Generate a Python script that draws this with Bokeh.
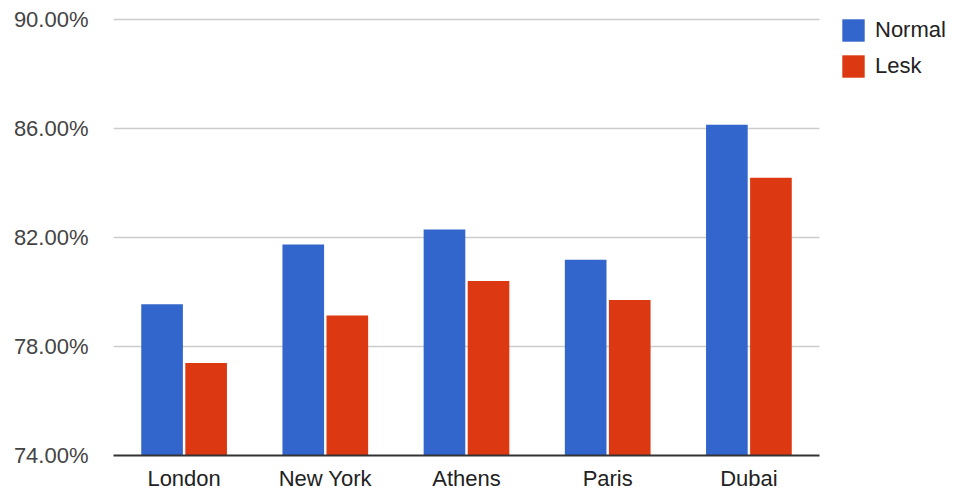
from bokeh.plotting import figure
from bokeh.models import (ColumnDataSource, Legend, LegendItem, Range1d,
                          FixedTicker, PrintfTickFormatter)
from bokeh.transform import dodge
from bokeh.embed import file_html
from bokeh.resources import INLINE

# Accuracy per city for the two methods (percent)
cities = ["London", "New York", "Athens", "Paris", "Dubai"]
normal = [79.55, 81.74, 82.29, 81.18, 86.14]
lesk = [77.39, 79.14, 80.40, 79.71, 84.19]
y_ticks = [74, 78, 82, 86, 90]

BLUE = "#3366cc"
RED = "#dc3912"
FONT = "Liberation Sans"

# page geometry (pixels)
W, H = 960, 493
LEFT, BOTTOM = 113, 38          # plot frame offsets
PLOT_W, PLOT_TOP = 706, 19      # width of the category area, top gridline position

n = len(cities)
centers = [i + 0.5 for i in range(n)]
px_per_unit_y = (H - BOTTOM - PLOT_TOP) / (y_ticks[-1] - y_ticks[0])
px_per_unit_x = PLOT_W / n

src = ColumnDataSource(data=dict(x=centers, city=cities, normal=normal, lesk=lesk))

p = figure(
    x_range=Range1d(0, (W - LEFT) / px_per_unit_x),
    y_range=Range1d(y_ticks[0], y_ticks[-1] + PLOT_TOP / px_per_unit_y),
    width=W, height=H,
    output_backend="svg", toolbar_location=None,
    min_border_left=LEFT, min_border_right=0,
    min_border_top=0, min_border_bottom=BOTTOM,
)

# horizontal gridlines limited to the category area
p.segment(x0=0, x1=n, y0=y_ticks[1:], y1=y_ticks[1:], line_color="#cccccc", line_width=1.5)

r_normal = p.vbar(x=dodge("x", -0.156), top="normal", bottom=y_ticks[0],
                  width=0.295, source=src, fill_color=BLUE, line_color=None)
r_lesk = p.vbar(x=dodge("x", 0.156), top="lesk", bottom=y_ticks[0],
                width=0.295, source=src, fill_color=RED, line_color=None)

p.outline_line_color = None
p.background_fill_color = "white"
p.border_fill_color = "white"
p.xgrid.grid_line_color = None
p.ygrid.grid_line_color = None

# y axis: labels only
p.yaxis.ticker = FixedTicker(ticks=y_ticks)
p.yaxis.formatter = PrintfTickFormatter(format="%.2f%%")
p.yaxis.axis_line_color = None
p.yaxis.major_tick_line_color = None
p.yaxis.minor_tick_line_color = None
p.yaxis.major_tick_out = 0
p.yaxis.major_tick_in = 0
p.yaxis.major_label_standoff = 25
p.yaxis.major_label_text_font = FONT
p.yaxis.major_label_text_font_size = "22px"
p.yaxis.major_label_text_color = "#444444"

# x axis: dark baseline with city labels
p.xaxis.ticker = FixedTicker(ticks=centers)
p.xaxis.major_label_overrides = {c: name for c, name in zip(centers, cities)}
p.xaxis.bounds = (0, n)
p.xaxis.axis_line_color = "#333333"
p.xaxis.axis_line_width = 2
p.xaxis.major_tick_line_color = None
p.xaxis.minor_tick_line_color = None
p.xaxis.major_tick_out = 0
p.xaxis.major_tick_in = 0
p.xaxis.major_label_standoff = 10
p.xaxis.major_label_text_font = FONT
p.xaxis.major_label_text_font_size = "22px"
p.xaxis.major_label_text_color = "#222222"

legend = Legend(
    items=[LegendItem(label="Normal", renderers=[r_normal]),
           LegendItem(label="Lesk", renderers=[r_lesk])],
    location=(726, 375),
    glyph_width=28, glyph_height=28,
    label_text_font=FONT, label_text_font_size="22px", label_text_color="#222222",
    label_standoff=8, spacing=8, padding=0, margin=0,
    border_line_color=None, background_fill_alpha=0,
)
p.add_layout(legend)

open("out.html", "w").write(file_html(p, INLINE))
